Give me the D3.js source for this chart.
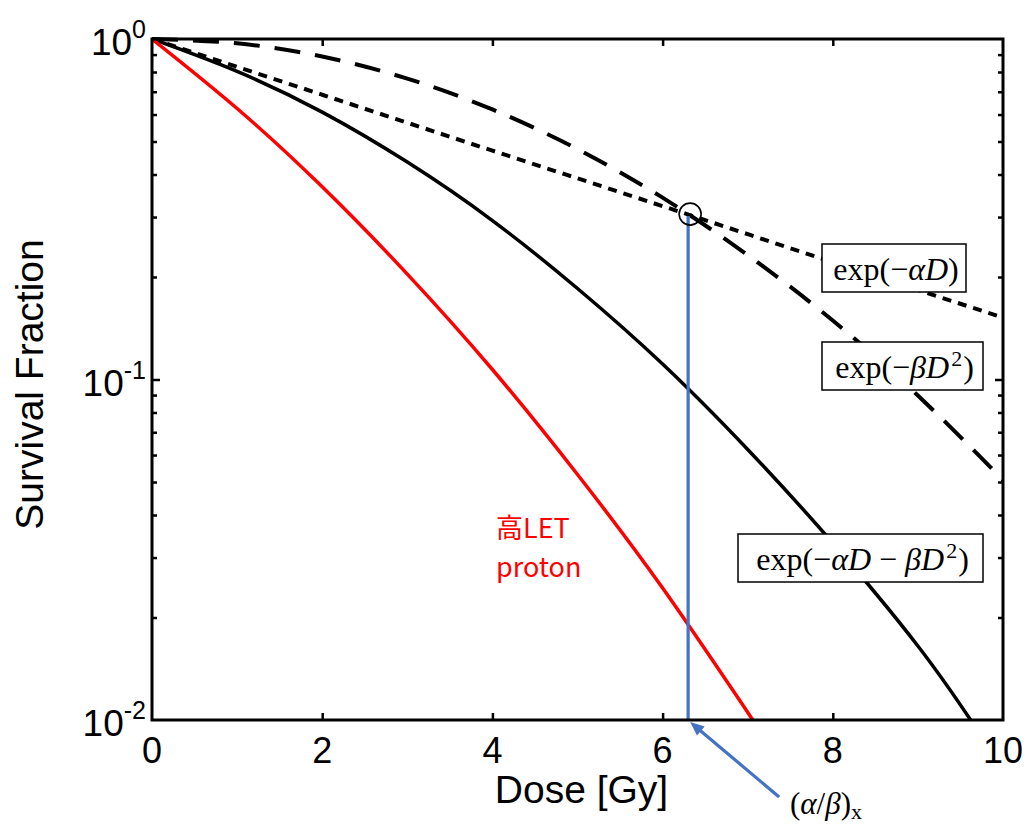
<!DOCTYPE html>
<html><head><meta charset="utf-8">
<script src="https://cdn.jsdelivr.net/npm/d3@7"></script>
<style>body{margin:0;background:#fff}svg{display:block}</style>
</head><body><svg id="c" width="1033" height="827"></svg>
<script>
// ---- data ----
const xTicks = [0, 2, 4, 6, 8, 10];
const yMajor = [1, 0.1, 0.01];
const yMajorExp = ["0", "-1", "-2"];
const yMinor = [0.9, 0.8, 0.7, 0.6, 0.5, 0.4, 0.3, 0.2, 0.09, 0.08, 0.07, 0.06, 0.05, 0.04, 0.03, 0.02];

const doseLQ = [0, 1, 2, 3, 4, 5, 6, 7, 8, 9, 9.62];
const survLQ = [1, 0.803, 0.610, 0.435, 0.293, 0.185, 0.111, 0.0623, 0.0331, 0.0165, 0.01];
const doseAlpha = [0, 2, 4, 6, 8, 10];
const survAlpha = [1, 0.686, 0.470, 0.323, 0.221, 0.152];
const doseBeta = [0, 1, 2, 3, 4, 5, 6, 7, 8, 9, 10];
const survBeta = [1, 0.971, 0.888, 0.765, 0.621, 0.475, 0.342, 0.232, 0.149, 0.0897, 0.0507];
const doseProton = [0, 1, 2, 3, 4, 5, 6, 7.06];
const survProton = [1, 0.625, 0.368, 0.204, 0.107, 0.0526, 0.0244, 0.01];
const alphaBetaDose = 6.3;
const crossSurv = 0.306;

// ---- layout ----
const svg = d3.select("#c");
const L = 152, R = 1003, T = 39, B = 720;
const x = d3.scaleLinear().domain([0, 10]).range([L, R]);
const y = d3.scaleLog().domain([0.01, 1]).range([B, T]);

svg.append("defs").append("clipPath").attr("id", "clip")
  .append("rect").attr("x", L).attr("y", T - 2).attr("width", R - L).attr("height", B - T + 2);

const line = d3.line().x(d => x(d[0])).y(d => y(d[1])).curve(d3.curveNatural);
const zip = (a, b) => a.map((v, i) => [v, b[i]]);

const g = svg.append("g").attr("clip-path", "url(#clip)");
g.append("path").attr("d", line(zip(doseBeta, survBeta)))
  .attr("fill", "none").attr("stroke", "#000").attr("stroke-width", 4).attr("stroke-dasharray", "26,15");
g.append("path").attr("d", line(zip(doseAlpha, survAlpha)))
  .attr("fill", "none").attr("stroke", "#000").attr("stroke-width", 4).attr("stroke-dasharray", "9,7");
g.append("path").attr("d", line(zip(doseLQ, survLQ)))
  .attr("fill", "none").attr("stroke", "#000").attr("stroke-width", 3.5);
g.append("path").attr("d", line(zip(doseProton, survProton)))
  .attr("fill", "none").attr("stroke", "#ff0000").attr("stroke-width", 3.5);

// blue alpha/beta marker
const blue = "#4472c4";
svg.append("line").attr("x1", x(alphaBetaDose)).attr("x2", x(alphaBetaDose))
  .attr("y1", y(crossSurv) + 2).attr("y2", y(0.01)).attr("stroke", blue).attr("stroke-width", 3.2);
svg.append("circle").attr("cx", x(alphaBetaDose) + 2).attr("cy", y(crossSurv))
  .attr("r", 11).attr("fill", "none").attr("stroke", "#000").attr("stroke-width", 1.6);

// axes frame
svg.append("rect").attr("x", L).attr("y", T).attr("width", R - L).attr("height", B - T)
  .attr("fill", "none").attr("stroke", "#000").attr("stroke-width", 3);

const inner = [2, 4, 6, 8];
svg.append("g").attr("transform", `translate(0,${B})`)
  .call(d3.axisBottom(x).tickValues(inner).tickSize(-7).tickFormat(""))
  .call(s => { s.select(".domain").remove(); s.selectAll("line").attr("stroke-width", 2.5); });
svg.append("g").attr("transform", `translate(0,${T})`)
  .call(d3.axisTop(x).tickValues(inner).tickSize(-7).tickFormat(""))
  .call(s => { s.select(".domain").remove(); s.selectAll("line").attr("stroke-width", 2.5); });

function yAxis(gen, tx, vals, size) {
  svg.append("g").attr("transform", `translate(${tx},0)`)
    .call(gen(y).tickValues(vals).tickSize(size).tickFormat(""))
    .call(s => { s.select(".domain").remove(); s.selectAll("line").attr("stroke-width", 2.5); });
}
yAxis(d3.axisLeft, L, yMinor, -5);
yAxis(d3.axisLeft, L, [0.1], -8);
yAxis(d3.axisRight, R, yMinor, -5);
yAxis(d3.axisRight, R, [0.1], -8);

// tick labels
const sans = "'Liberation Sans', Arial, sans-serif";
svg.append("g").selectAll("text").data(xTicks).join("text")
  .attr("x", d => x(d)).attr("y", B + 43).attr("text-anchor", "middle")
  .attr("font-family", sans).attr("font-size", 36).text(d => d);

const yl = svg.append("g").selectAll("text").data(yMajor).join("text")
  .attr("x", L - 6).attr("y", d => y(d) + 16).attr("text-anchor", "end")
  .attr("font-family", sans);
yl.append("tspan").attr("font-size", 37).text("10");
yl.append("tspan").attr("font-size", 25).attr("dy", -17).text((d, i) => yMajorExp[i]);

// axis titles
svg.append("text").attr("x", (L + R) / 2 + 4).attr("y", 803).attr("text-anchor", "middle")
  .attr("font-family", sans).attr("font-size", 39).text("Dose [Gy]");
svg.append("text").attr("transform", `translate(43,${(T + B) / 2 + 5}) rotate(-90)`)
  .attr("text-anchor", "middle").attr("font-family", sans).attr("font-size", 39).text("Survival Fraction");

// formula boxes
const serif = "'Liberation Serif', 'Times New Roman', serif";
function box(bx, by, bw, bh, parts) {
  svg.append("rect").attr("x", bx).attr("y", by).attr("width", bw).attr("height", bh)
    .attr("fill", "#fff").attr("stroke", "#000").attr("stroke-width", 1.5);
  const t = svg.append("text").attr("x", bx + bw / 2 + 2).attr("y", by + bh - 12)
    .attr("text-anchor", "middle").attr("font-family", serif).attr("font-size", 32);
  parts.forEach(p => {
    const s = t.append("tspan").text(p[0]);
    if (p[1]) s.attr("font-style", "italic");
    if (p[2]) s.attr("font-size", 22).attr("dy", -12).attr("dx", 2);
    if (p[3]) s.attr("dy", 12).attr("dx", 1);
  });
}
box(822, 244, 144, 48, [["exp(\u2212"], ["\u03b1D", 1], [")"]]);
box(822, 342, 161, 48, [["exp(\u2212"], ["\u03b2D", 1], ["2", 0, 1], [")", 0, 0, 1]]);
box(738, 534, 245, 48, [["exp(\u2212"], ["\u03b1D", 1], [" \u2212 "], ["\u03b2D", 1], ["2", 0, 1], [")", 0, 0, 1]]);

// proton label
const cjk = "'Noto Sans CJK JP', 'Noto Sans', sans-serif";
svg.append("text").attr("x", 496).attr("y", 538).attr("fill", "#ff0000")
  .attr("font-family", cjk).attr("font-size", 27).text("高LET");
svg.append("text").attr("x", 496).attr("y", 577).attr("fill", "#ff0000")
  .attr("font-family", cjk).attr("font-size", 27).text("proton");

// alpha/beta arrow annotation
const tipX = x(alphaBetaDose) + 2, tipY = y(0.01) + 2;
const tailX = tipX + 89, tailY = tipY + 75;
const ang = Math.atan2(tipY - tailY, tipX - tailX);
const ah = 14, aw = 6;
svg.append("line").attr("x1", tailX).attr("y1", tailY)
  .attr("x2", tipX - Math.cos(ang) * ah * 0.8).attr("y2", tipY - Math.sin(ang) * ah * 0.8)
  .attr("stroke", blue).attr("stroke-width", 3.2);
const bxp = tipX - Math.cos(ang) * ah, byp = tipY - Math.sin(ang) * ah;
svg.append("path").attr("fill", blue).attr("d",
  `M${tipX},${tipY}L${bxp + Math.sin(ang) * aw},${byp - Math.cos(ang) * aw}L${bxp - Math.sin(ang) * aw},${byp + Math.cos(ang) * aw}Z`);

const ab = svg.append("text").attr("x", 790).attr("y", 814).attr("font-family", serif).attr("font-size", 31);
ab.append("tspan").text("(");
ab.append("tspan").attr("font-style", "italic").text("\u03b1");
ab.append("tspan").text("/");
ab.append("tspan").attr("font-style", "italic").text("\u03b2");
ab.append("tspan").text(")");
ab.append("tspan").attr("font-size", 22).attr("dy", 5).text("x");
</script></body></html>
